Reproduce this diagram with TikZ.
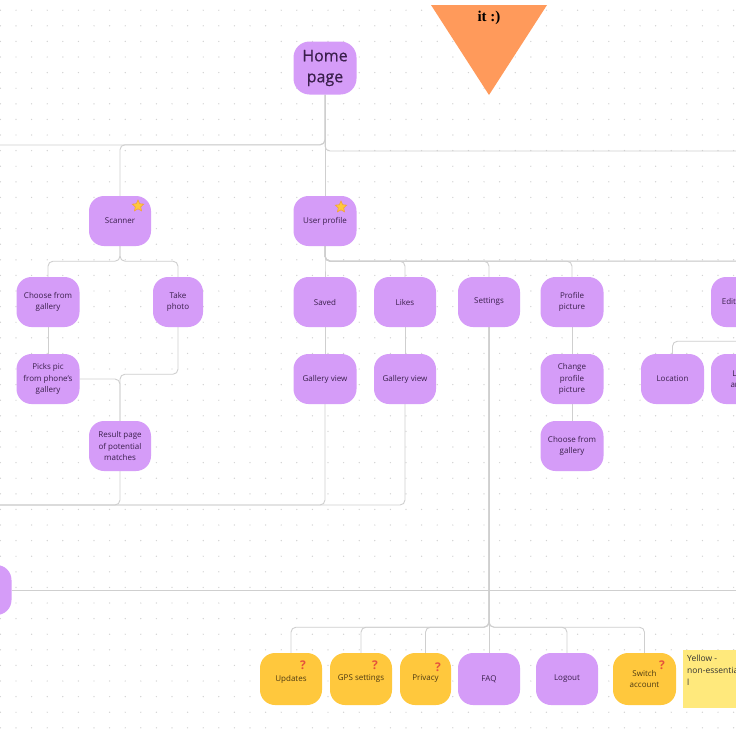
\documentclass[tikz,border=0pt]{standalone}
\usepackage{fontspec}
\setmainfont{Open Sans}
\newfontfamily\medfont[FakeBold=0.5]{Open Sans}
\newfontfamily\trifont{Liberation Serif}
\usetikzlibrary{shapes.geometric,calc}
\definecolor{purp}{HTML}{D59CF8}
\definecolor{ylw}{HTML}{FFC83D}
\definecolor{sticky}{HTML}{FFE97C}
\definecolor{tri}{HTML}{FF9A5B}
\definecolor{ptext}{HTML}{3A1F4C}
\definecolor{ytext}{HTML}{4D3A12}
\definecolor{linec}{HTML}{CFCFCF}
\definecolor{dotc}{HTML}{D2D2D2}
\definecolor{qm}{HTML}{E5533C}
\definecolor{starline}{HTML}{F2A33A}
\pgfdeclarelayer{grid}
\pgfdeclarelayer{bg}
\pgfsetlayers{grid,bg,main}
\begin{document}
\begin{tikzpicture}[x=1pt,y=-1pt,
 box/.style={rounded corners=15pt, minimum width=62pt, minimum height=50pt, align=center, inner sep=1pt, font=\fontsize{8}{11.5}\selectfont, text=ptext},
 pbox/.style={box, fill=purp},
 ybox/.style={box, fill=ylw, text=ytext, minimum height=52pt},
 conn/.style={draw=linec, line width=0.9pt, rounded corners=5pt},
 qmark/.style={text=qm, font=\fontsize{12}{12}\selectfont\bfseries, inner sep=0pt},
 staricon/.style={star, star points=5, star point ratio=2.1, minimum size=12pt, inner sep=0pt, fill=ylw, draw=starline, line width=0.6pt}]
\useasboundingbox (0,0) rectangle (736,736);
\clip (0,0) rectangle (736,736);

% background and dot grid
\begin{pgfonlayer}{grid}
\fill[white] (0,0) rectangle (736,736);
\foreach \i in {0,...,47} {\foreach \j in {0,...,47} {\fill[dotc] (0.4+15.6*\i, 10.2+15.6*\j) circle (0.7);}}
\end{pgfonlayer}

% triangle
\fill[tri] (431,5) -- (547,5) -- (489,95) -- cycle;
\node[font=\trifont\bfseries\fontsize{15}{15}\selectfont, inner sep=0pt] (tritext) at (489,18) {it :)};

% nodes
\node[pbox, minimum width=63pt, minimum height=53pt, rounded corners=16pt, font=\medfont\fontsize{16}{20}\selectfont] (home) at (325,68) {Home\\[1pt]page};
\node[pbox] (scanner) at (120,221) {Scanner};
\node[pbox, minimum width=63pt] (user) at (325,221) {User profile};
\node[pbox, minimum width=63pt] (choose) at (48,302) {Choose from\\gallery};
\node[pbox, minimum width=50pt] (take) at (178,302) {Take\\photo};
\node[pbox, minimum width=63pt] (picks) at (48,379) {Picks pic\\from phone's\\gallery};
\node[pbox] (result) at (120,446) {Result page\\of potential\\matches};
\node[pbox, minimum width=63pt] (saved) at (325,302) {Saved};
\node[pbox] (likes) at (405,302) {Likes};
\node[pbox] (settings) at (489,302) {Settings};
\node[pbox, minimum width=63pt] (profpic) at (572,302) {Profile\\picture};
\node[pbox] (edit) at (742,302) {Edit profile};
\node[pbox, minimum width=63pt] (gv1) at (325,379) {Gallery view};
\node[pbox] (gv2) at (405,379) {Gallery view};
\node[pbox, minimum width=63pt] (change) at (572,379) {Change\\profile\\picture};
\node[pbox, minimum width=63pt] (location) at (672.5,379) {Location};
\node[pbox] (lart) at (742,379) {Local\\artists};
\node[pbox, minimum width=63pt] (choose2) at (572,446) {Choose from\\gallery};
\node[pbox, minimum width=63pt] (leftn) at (-20,590) {};

\node[ybox] (updates) at (291,679) {Updates};
\node[ybox] (gps) at (361,679) {GPS settings};
\node[ybox, minimum width=51pt] (privacy) at (425.5,679) {Privacy};
\node[pbox, minimum height=52pt] (faq) at (489,679) {FAQ};
\node[pbox, minimum height=52pt] (logout) at (567,679) {Logout};
\node[ybox, minimum width=63pt] (switch) at (644.5,679) {Switch\\account};

% sticky note
\node[fill=sticky, minimum width=70pt, minimum height=58pt, anchor=north west, inner sep=0pt] (note) at (683,650) {};
\node[anchor=north west, align=left, inner sep=0pt, font=\fontsize{8.5}{12}\selectfont, text=black!80] (notetext) at (687,655) {Yellow -\\non-essentia\\l};

% icons
\node[staricon] (star1) at (138,206) {};
\node[staricon] (star2) at (341,207) {};
\node[qmark] (q1) at (303,665) {?};
\node[qmark] (q2) at (375,665) {?};
\node[qmark] (q3) at (438,667) {?};
\node[qmark] (q4) at (662,665) {?};

% free ends
\coordinate (offA) at (-10,145);
\coordinate (offB) at (750,151);
\coordinate (offC) at (-10,505);
\coordinate (offD) at (750,261);
\coordinate (offE) at (750,590);

\begin{pgfonlayer}{bg}
\draw[conn] (home.south) |- (offA);
\draw[conn] (home.south) -- ++(0,50) -| (scanner.north);
\draw[conn] (home.south) -- (user.north);
\draw[conn] (home.south) |- (offB);

\draw[conn] (scanner.south) -- ++(0,15) -| (choose.north);
\draw[conn] (scanner.south) -- ++(0,15) -| (take.north);
\draw[conn] (choose) -- (picks);
\draw[conn] (picks.east) -| (result.north);
\draw[conn] (take.south) -- ++(0,47) -| (result.north);
\draw[conn] (result.south) |- (offC);
\draw[conn] (gv1.south) |- (offC);
\draw[conn] (gv2.south) |- (offC);

\draw[conn] (user.south) -- ++(0,15) -| (saved.north);
\draw[conn] (user.south) -- ++(0,15) -| (likes.north);
\draw[conn] (user.south) -- ++(0,15) -| (settings.north);
\draw[conn] (user.south) -- ++(0,15) -| (profpic.north);
\draw[conn] (user.south) -- ++(0,15) -| (edit.north);
\draw[conn] (user.south) |- (offD);
\draw[conn] (saved) -- (gv1);
\draw[conn] (likes) -- (gv2);
\draw[conn] (profpic) -- (change);
\draw[conn] (change) -- (choose2);
\draw[conn] (edit.south) -- ++(0,14) -| (location.north);

\draw[conn] (settings.south) -- ++(0,300) -| (updates.north);
\draw[conn] (settings.south) -- ++(0,300) -| (gps.north);
\draw[conn] (settings.south) -- ++(0,300) -| (privacy.north);
\draw[conn] (settings.south) -- (faq.north);
\draw[conn] (settings.south) -- ++(0,300) -| (logout.north);
\draw[conn] (settings.south) -- ++(0,300) -| (switch.north);

\draw[conn] (leftn.east) -- (offE);
\end{pgfonlayer}
\end{tikzpicture}
\end{document}
